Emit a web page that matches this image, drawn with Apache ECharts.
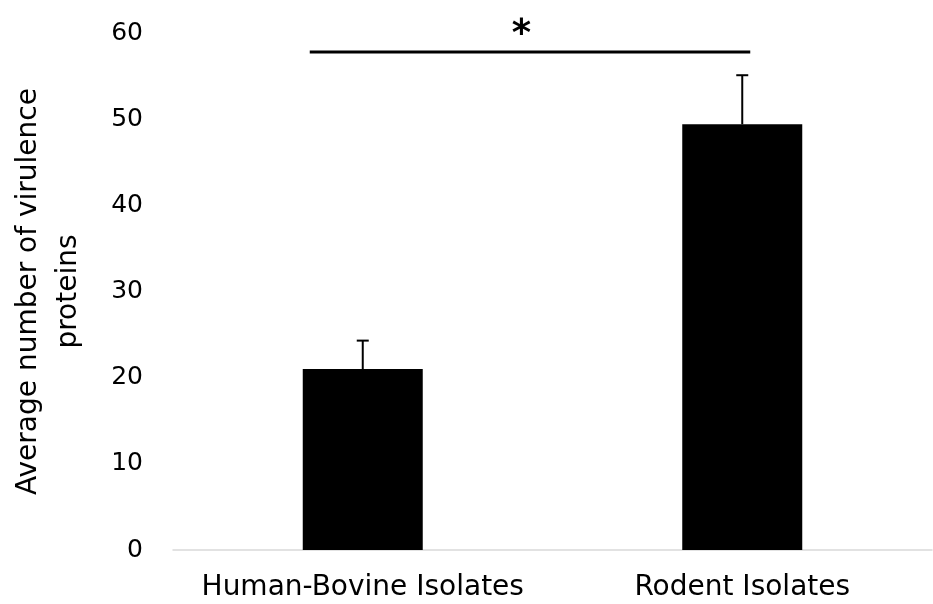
<!DOCTYPE html>
<html><head><meta charset="utf-8">
<script src="https://cdn.jsdelivr.net/npm/echarts@6/dist/echarts.min.js"></script>
<style>html,body{margin:0;padding:0;background:#fff}#c{width:933px;height:604px}</style>
</head><body><div id="c"></div>
<script>
const categories = ["Human-Bovine Isolates", "Rodent Isolates"];
const means = [21.0, 49.4];
const errorTops = [24.3, 55.1];
const yTicks = [0, 10, 20, 30, 40, 50, 60];
const sigLevel = 57.8;
const sigLabel = "*";

const chart = echarts.init(document.getElementById('c'), null, {renderer: 'canvas'});
const font = '"DejaVu Sans", sans-serif';
chart.setOption({
  animation: false,
  grid: {left: 173, right: 1, top: 33, bottom: 54, containLabel: false, outerBoundsMode: 'none'},
  xAxis: {
    type: 'category', data: categories,
    axisLine: {lineStyle: {color: '#d9d9d9', width: 1.5}},
    axisTick: {show: false},
    axisLabel: {color: '#000', fontSize: 28, fontFamily: font, margin: 24, interval: 0, hideOverlap: false}
  },
  yAxis: {
    type: 'value', min: yTicks[0], max: yTicks[yTicks.length-1], interval: 10,
    splitLine: {show: false}, axisLine: {show: false}, axisTick: {show: false},
    axisLabel: {color: '#000', fontSize: 25, fontFamily: font, margin: 30},
    name: 'Average number of virulence\nproteins',
    nameLocation: 'middle', nameRotate: 90, nameGap: 84,
    nameTextStyle: {color: '#000', fontSize: 28, fontFamily: font, lineHeight: 40}
  },
  series: [
    {type: 'bar', data: means, barWidth: 120, itemStyle: {color: '#000'}, z: 2},
    {type: 'custom', z: 3,
     data: categories.map((c, i) => [i, means[i], errorTops[i]]),
     renderItem: function (params, api) {
       const b = api.coord([api.value(0), api.value(1)]);
       const t = api.coord([api.value(0), api.value(2)]);
       const st = {stroke: '#000', lineWidth: 2};
       return {type: 'group', children: [
         {type: 'line', shape: {x1: b[0], y1: b[1], x2: t[0], y2: t[1]}, style: st},
         {type: 'line', shape: {x1: t[0]-6, y1: t[1], x2: t[0]+6, y2: t[1]}, style: st}
       ]};
     }},
    {type: 'custom', z: 4,
     data: [[0, 1, sigLevel]],
     renderItem: function (params, api) {
       const a = api.coord([api.value(0), api.value(2)]);
       const b = api.coord([api.value(1), api.value(2)]);
       return {type: 'group', children: [
         {type: 'line', shape: {x1: a[0]-53, y1: a[1], x2: b[0]+8, y2: b[1]}, style: {stroke: '#000', lineWidth: 3}},
         {type: 'text', style: {text: sigLabel, x: (a[0]+b[0])/2 - 31, y: a[1] + 2, fill: '#000', font: 'bold 37px ' + font, textAlign: 'center', textVerticalAlign: 'bottom'}}
       ]};
     }}
  ]
});
</script></body></html>
